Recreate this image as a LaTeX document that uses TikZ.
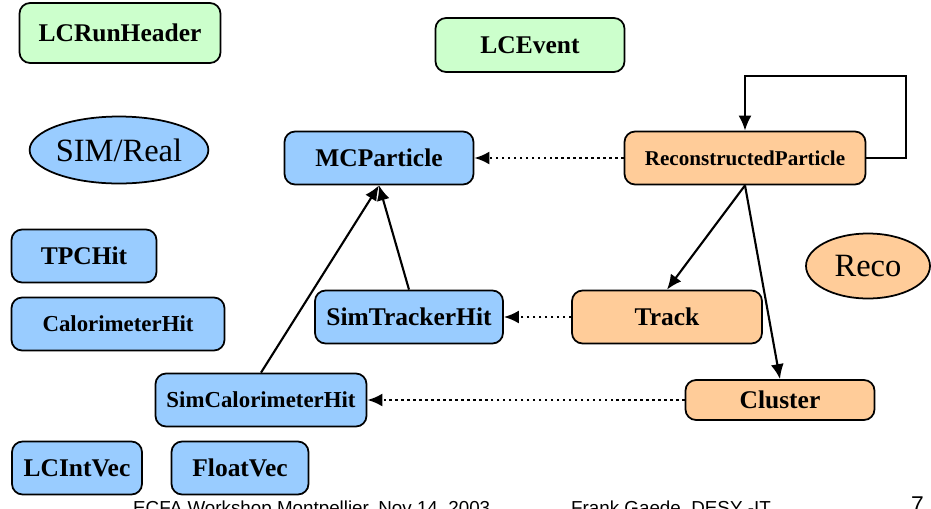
\documentclass[tikz,border=0pt]{standalone}
\usepackage{fontspec}
\setmainfont{Liberation Serif}
\setsansfont{Liberation Sans}
\usetikzlibrary{arrows.meta,shapes.geometric}
\definecolor{runc}{HTML}{CCFFCC}
\definecolor{simc}{HTML}{99CCFF}
\definecolor{recc}{HTML}{FFCC99}
\tikzset{cls/.style={draw,line width=1pt,rounded corners=6pt,minimum height=1.06cm,inner sep=0pt,
    font=\fontsize{14.5}{17}\selectfont\bfseries},
  ev/.style={cls,fill=runc},sm/.style={cls,fill=simc},rc/.style={cls,fill=recc},
  grp/.style={ellipse,draw,line width=1pt,inner sep=0pt,font=\fontsize{18.5}{20}\selectfont},
  link/.style={line width=1.2pt,-{Latex[length=3mm,width=2.6mm]}},
  ref/.style={link,line width=1.4pt,dotted},foot/.style={anchor=base west,font=\sffamily\fontsize{10.7}{13}\selectfont}}
\begin{document}
\begin{tikzpicture}[x=0.02cm,y=-0.02cm]
\useasboundingbox (0,0) rectangle (931,508);
% event level
\node[ev,minimum width=4.02cm,minimum height=1.2cm] (run) at (120,33) {LCRunHeader};
\node[ev,minimum width=3.78cm,minimum height=1.08cm] (evt) at (530,45) {LCEvent};
\node[grp,minimum width=3.36cm,minimum height=1.34cm,fill=simc] (sim) at (119,150) {SIM/Real};
\node[grp,minimum width=2.48cm,minimum height=1.3cm,fill=recc] (reco) at (868,266) {Reco};
% sim classes
\node[sm,minimum width=3.78cm] (mcp) at (379,158) {MCParticle};
\node[sm,minimum width=2.9cm] (tpc) at (84,256) {TPCHit};
\node[sm,minimum width=4.26cm,font=\fontsize{13}{15}\selectfont\bfseries] (calo) at (118,324) {CalorimeterHit};
\node[sm,minimum width=3.76cm] (simtrk) at (409,317) {SimTrackerHit};
\node[sm,minimum width=4.22cm,font=\fontsize{13}{15}\selectfont\bfseries] (simcal) at (261,400) {SimCalorimeterHit};
\node[sm,minimum width=2.6cm] (ivec) at (77,468) {LCIntVec};
\node[sm,minimum width=2.74cm] (fvec) at (240,468) {FloatVec};
% reco classes
\node[rc,minimum width=4.82cm,font=\fontsize{12}{14}\selectfont\bfseries] (rp) at (745,158) {ReconstructedParticle};
\node[rc,minimum width=3.8cm] (trk) at (667,317) {Track};
\node[rc,minimum width=3.78cm,minimum height=0.8cm] (clu) at (780,400) {Cluster};
% relations
\draw[link] (simtrk.north) -- (mcp.south);
\draw[link] (simcal.north) -- (mcp.south);
\draw[link] (rp.south) -- (trk.north);
\draw[link] (rp.south) -- (clu.north);
\draw[link] (rp.east) -- ++(40,0) -- ++(0,-82) -| (rp.north);
\draw[ref] (rp.west) -- (mcp.east);
\draw[ref] (trk.west) -- (simtrk.east);
\draw[ref] (clu.west) -- (simcal.east);
% footer
\node[foot] (f1) at (127,514) {ECFA Workshop Montpellier, Nov 14, 2003};
\node[foot] (f2) at (565,514) {Frank Gaede, DESY -IT};
\node[foot,font=\sffamily\fontsize{13}{15}\selectfont] (pg) at (905,512) {7};
\end{tikzpicture}
\end{document}
